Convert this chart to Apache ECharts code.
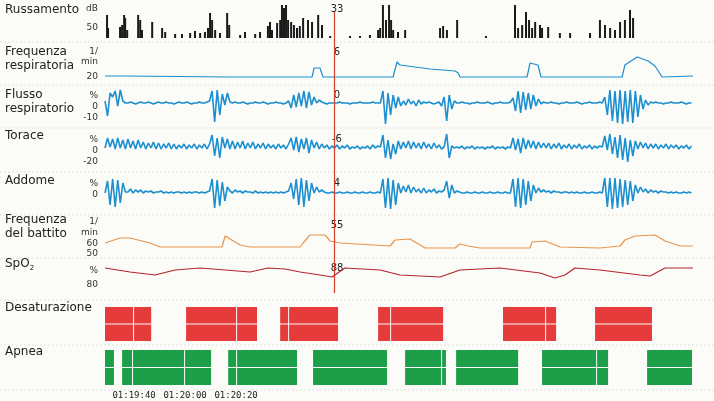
<!DOCTYPE html>
<html>
<head>
<meta charset="utf-8">
<script src="https://cdn.jsdelivr.net/npm/echarts@6/dist/echarts.min.js"></script>
<style>html,body{margin:0;padding:0;background:#fbfbf8}#c{width:714px;height:401px}</style>
</head>
<body>
<div id="c"></div>
<script>
// tempo in secondi da 01:19:40
var T0 = -11.4, TMAX = 219.2, CURSOR = 78.4;
var timeTicks = [0, 20, 40];
var timeLabels = ["01:19:40", "01:20:00", "01:20:20"];

// russamento [t, dB]
var snore = [[-10.6,63],[-10.2,50],[-5.5,51],[-4.7,53],[-3.9,63],[-3.5,60],[-2.7,48],[1.6,63],[2.4,58],[3.1,48],[7.1,56],[11,50],[12.2,46],[16.1,44],[18.8,44],[22,45],[23.9,47],[25.9,45],[27.8,46],[29,50],[29.8,65],[30.6,58],[31.8,48],[33.7,45],[36.5,65],[37.3,53],[41.6,43],[43.5,46],[47.5,44],[49.4,46],[52.5,52],[53.3,56],[54.1,48],[56.1,55],[57.3,58],[58,73],[58.8,70],[59.6,73],[60.4,58],[61.6,56],[62.7,53],[63.9,50],[65,52],[66.3,60],[68.2,58],[69.8,56],[72.2,63],[73.7,53],[76.9,42],[84.7,42],[88.6,42],[92.5,43],[95.7,48],[96.5,50],[97.6,73],[98.8,58],[100,73],[100.8,58],[101.6,48],[103.5,46],[106.3,48],[120,50],[121.2,52],[122.7,48],[126.7,58],[138,42],[149.4,73],[150.6,50],[152.2,53],[153.7,66],[154.9,58],[156.1,50],[157.3,56],[159.2,53],[160,50],[162.4,51],[167,45],[171,45],[178.8,45],[182.7,58],[184.7,53],[186.7,50],[188.6,48],[190.6,56],[192.5,58],[194.5,68],[195.7,60]];

// frequenza respiratoria [t, 1/min]
var respRate = [[-11.4,21],[-4.3,21],[-3.9,19.5],[37.6,20],[69.8,20],[70.6,29],[72.9,29],[74.1,20],[101.6,20],[103.1,35],[104.3,32],[116.1,28],[125.9,26],[127.1,24],[127.8,20],[154.1,20],[155.3,34],[158.4,32],[159.6,20],[191.4,20],[192.5,32],[197.3,40],[201.6,36],[204.3,31],[207.1,20],[219.2,21]];

// campioni ogni secondo a partire da T0
var flow = [2,-13,10,6,12,-3,13,2,0,
 0,1,0,-1,0,1,0,0,1,0,-1,0,1,0,0,1,0,0,-1,0,1,0,0,1,0,-1,0,0,1,0,0,1,
 2,12,-19,13,-12,9,-2,10,1,
 0,1,0,0,1,0,-1,0,0,1,0,0,1,0,-1,0,0,1,0,0,-1,0,
 2,-5,8,-4,10,-3,12,-5,11,-2,6,0,3,1,
 0,-1,0,0,0,0,1,0,0,0,-1,0,0,0,1,0,0,0,0,1,0,0,0,
 12,-21,10,-12,8,-5,6,-3,2,-2,4,-1,2,-3,3,-1,1,0,1,0,-1,0,1,-3,6,
 -18,8,-6,2,0,
 0,1,0,0,-1,0,0,1,0,0,0,1,0,-1,0,0,1,0,0,0,1,
 5,-8,12,-10,11,-7,10,-6,8,-3,4,-1,1,
 0,0,1,0,0,-1,0,0,1,0,0,0,1,0,-1,0,0,1,0,0,0,1,0,
 6,-12,13,-18,12,-20,13,-21,12,-19,13,-20,12,-14,8,-6,3,-2,1,
 0,1,0,0,-1,0,0,1,0,0,0,1,0,-1,0,0];

var thorax = [2,12,3,11,1,12,2,10,1,11,2,9,1,10,2,
 8,1,7,2,8,1,7,1,6,2,7,1,6,1,5,2,6,1,5,2,6,1,5,2,6,1,
 6,15,-6,12,-8,13,2,11,1,
 9,1,8,2,9,1,7,2,8,1,6,2,7,1,6,2,5,1,6,2,5,1,
 6,12,0,13,-2,11,1,12,-3,10,2,8,1,6,
 2,5,1,4,2,5,1,4,2,5,1,3,2,4,1,3,2,4,1,5,2,4,3,
 15,-8,10,-9,6,-4,9,1,8,2,9,1,8,2,7,1,8,2,6,1,7,2,5,1,3,
 16,-8,4,2,3,
 2,4,1,3,2,4,1,3,2,3,1,3,2,4,1,3,2,3,1,3,2,
 12,0,11,-3,12,1,10,2,9,1,8,2,7,
 2,7,1,6,2,7,1,5,2,6,1,5,2,6,1,4,2,5,1,4,2,4,3,
 14,0,16,-4,13,-8,15,-10,12,-12,10,-6,9,1,8,2,7,1,6,
 2,6,1,5,2,6,1,5,2,5,1,4,2,5,1,4];

var abdomen = [2,14,-10,16,-12,15,-8,12,3,
 3,6,2,5,3,5,2,4,3,4,2,3,3,4,2,3,2,3,2,3,3,2,3,2,3,2,3,3,2,3,2,3,
 4,16,-13,15,-11,13,-6,8,4,
 2,5,3,4,2,4,3,3,2,4,2,3,2,3,2,3,2,3,2,3,2,3,
 4,12,-4,16,-10,17,-12,15,-6,12,2,8,3,5,
 3,2,2,3,2,2,3,2,2,3,2,2,3,2,2,3,2,2,3,2,2,3,2,
 16,-13,17,-14,15,-10,12,2,9,3,10,2,8,3,6,2,7,2,5,3,6,2,4,3,5,
 14,-3,10,2,4,
 3,2,2,3,2,2,3,2,2,3,2,2,3,2,2,3,2,2,3,2,2,
 16,-12,17,-13,16,-10,14,-6,10,2,7,3,5,
 3,4,2,4,3,3,2,3,3,2,3,2,3,2,2,3,2,2,3,2,2,3,2,
 17,-12,17,-14,17,-13,16,-12,15,-10,14,-6,10,2,8,3,6,2,5,
 3,4,2,4,3,3,2,3,2,3,2,2,3,2,3,2];

// frequenza del battito [t, 1/min]
var heartRate = [[-11.4,62],[-5.5,67],[-1.6,67],[6.3,62],[10.2,58],[34.5,58],[35.7,69],[41.6,60],[45.5,58],[65.1,58],[66.3,62],[69,70],[74.9,70],[76.9,64],[80.8,62],[100.4,59],[102.4,65],[108.2,66],[112.2,60],[114.1,57],[125.9,57],[127.8,61],[131,59],[135.7,57],[155.3,57],[156.1,63],[161.2,64],[167.1,58],[182.7,57],[190.6,59],[192.5,65],[196.5,69],[204.3,70],[208.2,64],[214.1,59],[219.2,59]];

// SpO2 [t, %]
var spo2 = [[-11.4,97],[-1.6,93],[8.2,90],[16.1,95],[25.9,97],[45.5,93],[52.5,97],[59.2,96],[65.1,93],[72.9,90],[77.6,88],[82.7,97],[96.5,95],[104.3,90],[120,88],[127.8,95],[143.5,97],[159.2,92],[165.1,87],[169,90],[172.9,97],[182.7,95],[198.4,90],[202.4,89],[208.2,97],[219.2,97]];

// eventi [inizio, fine]
var desat = [[-11.4,0],[0,7.1],[20.4,40.4],[40.4,48.6],[57.3,60.8],[60.8,80.4],[95.7,100.8],[100.8,121.6],[144.7,161.6],[161.6,165.9],[180.8,203.5]];
var apnea = [[-11.4,-7.5],[-4.7,-0.4],[-0.4,20],[20,30.6],[36.9,40.4],[40.4,64.3],[70.2,99.6],[106.3,120.8],[120.8,122.7],[126.3,151],[160,181.6],[181.6,186.3],[201.2,219.2]];

var cursorVals = ["33", "6", "0", "-6", "4", "55", "88"];

function seq(arr) {
  var out = [];
  for (var i = 0; i < arr.length; i++) out.push([T0 + i, arr[i]]);
  return out;
}

var panels = [
  {top: 3, h: 35, min: 40, max: 75},
  {top: 45, h: 35, min: 17, max: 52},
  {top: 86, h: 40, min: -23, max: 17},
  {top: 130, h: 40, min: -20, max: 20},
  {top: 174, h: 40, min: -19, max: 21},
  {top: 216, h: 40, min: 49, max: 89},
  {top: 258, h: 32, min: 75, max: 107},
  {top: 307, h: 34, min: 0, max: 1},
  {top: 350, h: 35, min: 0, max: 1},
  {top: 12, h: 281, min: 0, max: 1}
];

var grids = [], xAxes = [], yAxes = [];
panels.forEach(function (p, k) {
  grids.push({left: 105, right: 21, top: p.top, height: p.h});
  var last = k === 8;
  xAxes.push({
    type: "value", gridIndex: k, min: T0, max: TMAX,
    axisLine: {show: false}, splitLine: {show: false}, axisTick: {show: false},
    axisLabel: last ? {
      show: true, customValues: timeTicks, margin: 6, fontSize: 9, color: "#222",
      fontFamily: "DejaVu Sans Mono",
      formatter: function (v) { return timeLabels[timeTicks.indexOf(Math.round(v))] || ""; }
    } : {show: false}
  });
  yAxes.push({type: "value", gridIndex: k, min: p.min, max: p.max, show: false});
});

function lineS(k, data, color, w) {
  return {type: "line", xAxisIndex: k, yAxisIndex: k, data: data, showSymbol: false,
    silent: true, lineStyle: {color: color, width: w}};
}

function blocks(k, data, color) {
  return {
    type: "custom", xAxisIndex: k, yAxisIndex: k, data: data, silent: true,
    renderItem: function (params, api) {
      var a = api.coord([api.value(0), 1]);
      var b = api.coord([api.value(1), 0]);
      var w = Math.max(1, b[0] - a[0] - 1), hh = (b[1] - a[1]) / 2;
      return {type: "group", children: [
        {type: "rect", shape: {x: a[0], y: a[1], width: w, height: hh - 0.5}, style: {fill: color}},
        {type: "rect", shape: {x: a[0], y: a[1] + hh + 0.5, width: w, height: hh - 0.5}, style: {fill: color}}
      ]};
    },
    encode: {x: [0, 1]}
  };
}

var blue = "#1b8fcf";
var series = [
  {type: "bar", xAxisIndex: 0, yAxisIndex: 0, data: snore, barWidth: 2, silent: true,
    itemStyle: {color: "#1a1a1a"}},
  lineS(1, respRate, blue, 1.2),
  lineS(2, seq(flow), blue, 1.6),
  lineS(3, seq(thorax), blue, 1.6),
  lineS(4, seq(abdomen), blue, 1.6),
  lineS(5, heartRate, "#e8954d", 1.2),
  lineS(6, spo2, "#b3262c", 1.2),
  blocks(7, desat, "#e53b3b"),
  blocks(8, apnea, "#1d9e49"),
  {type: "line", xAxisIndex: 9, yAxisIndex: 9, data: [], silent: true,
    markLine: {symbol: "none", silent: true, label: {show: false},
      lineStyle: {color: "#d2412f", width: 1.2, type: "solid"},
      data: [{xAxis: CURSOR}]}}
];

var graphic = [];
function txt(x, y, s, opt) {
  graphic.push({type: "text", left: x, top: y, style: Object.assign({
    text: s, fontSize: 12, fontFamily: "DejaVu Sans", fill: "#222"}, opt || {})});
}
function unit(y, s) {
  graphic.push({type: "text", x: 98, y: y, style: {text: s, fontSize: 9, fontFamily: "DejaVu Sans",
    fill: "#333", align: "right", verticalAlign: "middle"}});
}
[42, 85, 128, 172, 215, 258, 300, 345, 390].forEach(function (y) {
  graphic.push({type: "line", shape: {x1: 0, y1: y, x2: 714, y2: y},
    style: {stroke: "#e2e2dc", lineWidth: 1, lineDash: [2, 2]}, z: -1});
});
txt(5, 4, "Russamento");
txt(5, 46, "Frequenza"); txt(5, 60, "respiratoria");
txt(5, 89, "Flusso"); txt(5, 103, "respiratorio");
txt(5, 130, "Torace");
txt(5, 175, "Addome");
txt(5, 214, "Frequenza"); txt(5, 228, "del battito");
graphic.push({type: "text", left: 5, top: 258, style: {
  text: "SpO{s|2}", fontSize: 12, fontFamily: "DejaVu Sans", fill: "#222",
  rich: {s: {fontSize: 7, padding: [8, 0, 0, 0], fontFamily: "DejaVu Sans", fill: "#222"}}}});
txt(5, 302, "Desaturazione");
txt(5, 346, "Apnea");
unit(9, "dB"); unit(28, "50");
unit(52, "1/"); unit(62, "min"); unit(77, "20");
unit(96, "%"); unit(107, "0"); unit(118, "-10");
unit(140, "%"); unit(151, "0"); unit(162, "-20");
unit(184, "%"); unit(195, "0");
unit(222, "1/"); unit(233, "min"); unit(244, "60"); unit(254, "50");
unit(271, "%"); unit(285, "80");
[9, 52, 95, 139, 183, 225, 268].forEach(function (y, k) {
  graphic.push({type: "text", x: 337, y: y, style: {text: cursorVals[k], fontSize: 10,
    fontFamily: "DejaVu Sans", fill: "#222", align: "center", verticalAlign: "middle",
    backgroundColor: "#fbfbf8"}});
});

var chart = echarts.init(document.getElementById("c"));
chart.setOption({
  backgroundColor: "#fbfbf8",
  animation: false,
  grid: grids, xAxis: xAxes, yAxis: yAxes,
  series: series,
  graphic: graphic
});
</script>
</body>
</html>
